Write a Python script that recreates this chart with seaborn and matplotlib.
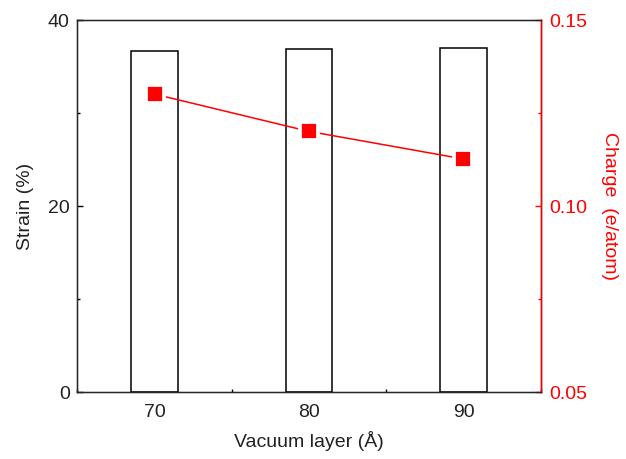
import matplotlib
matplotlib.use("Agg")
import matplotlib.pyplot as plt
import seaborn as sns
import pandas as pd
from matplotlib.ticker import MultipleLocator

vacuum = [70, 80, 90]
strain = [36.67, 36.92, 36.99]
charge = [0.1301, 0.1201, 0.1127]

sns.set_style("ticks")
plt.rcParams['font.family'] = ['Liberation Sans', 'DejaVu Sans']
FS = 14

df = pd.DataFrame({"vacuum": vacuum, "strain": strain, "charge": charge})

fig = plt.figure(figsize=(6.26, 4.59), dpi=100)
ax = fig.add_axes([0.1235, 0.1449, 0.7402, 0.8115])

sns.barplot(data=df, x="vacuum", y="strain", native_scale=True, width=0.3,
            facecolor="white", edgecolor="black", linewidth=1.1, ax=ax)
ax.set_xlim(65.0, 95.0)
ax.set_ylim(0, 40)
ax.set_xticks(vacuum)
ax.set_xticklabels([str(v) for v in vacuum])
ax.set_yticks([0, 20, 40])
ax.xaxis.set_minor_locator(MultipleLocator(5))
ax.yaxis.set_minor_locator(MultipleLocator(10))
ax.tick_params(axis="both", which="both", direction="in", labelsize=FS,
               top=False, right=False, color="black", labelcolor="#222222")
ax.tick_params(which="major", length=4.5, width=1.0)
ax.tick_params(which="minor", length=2.5, width=1.0)
ax.tick_params(axis="x", pad=8.5)
ax.tick_params(axis="y", pad=5.5)
ax.set_xlabel("Vacuum layer (Å)", fontsize=FS, labelpad=7, color="#222222")
ax.set_ylabel("Strain (%)", fontsize=FS, labelpad=10, color="#222222")
for s in ax.spines.values():
    s.set_color("black")
    s.set_linewidth(1.0)

ax2 = ax.twinx()
sns.lineplot(data=df, x="vacuum", y="charge", color="red", linewidth=1.1,
             ax=ax2, zorder=2)
ax2.plot(df["vacuum"], df["charge"], linestyle="none", marker="s",
         markersize=12.8, markerfacecolor="red", markeredgecolor="white",
         markeredgewidth=2.7, zorder=3)
ax2.set_xlim(65.0, 95.0)
ax2.set_ylim(0.05, 0.15)
ax2.set_yticks([0.05, 0.10, 0.15])
ax2.set_yticklabels(["0.05", "0.10", "0.15"])
ax2.yaxis.set_minor_locator(MultipleLocator(0.025))
ax2.tick_params(axis="y", which="both", direction="in", colors="red", labelsize=FS, pad=6)
ax2.tick_params(which="major", length=4.5, width=1.0)
ax2.tick_params(which="minor", length=2.5, width=1.0)
ax2.spines["right"].set_color("red")
ax2.spines["right"].set_linewidth(1.0)
ax2.set_ylabel("Charge  (e/atom)", color="red", fontsize=FS, rotation=270,
               va="bottom", labelpad=10)
ax2.set_xlabel("")

fig.savefig("out.png", dpi=100)
